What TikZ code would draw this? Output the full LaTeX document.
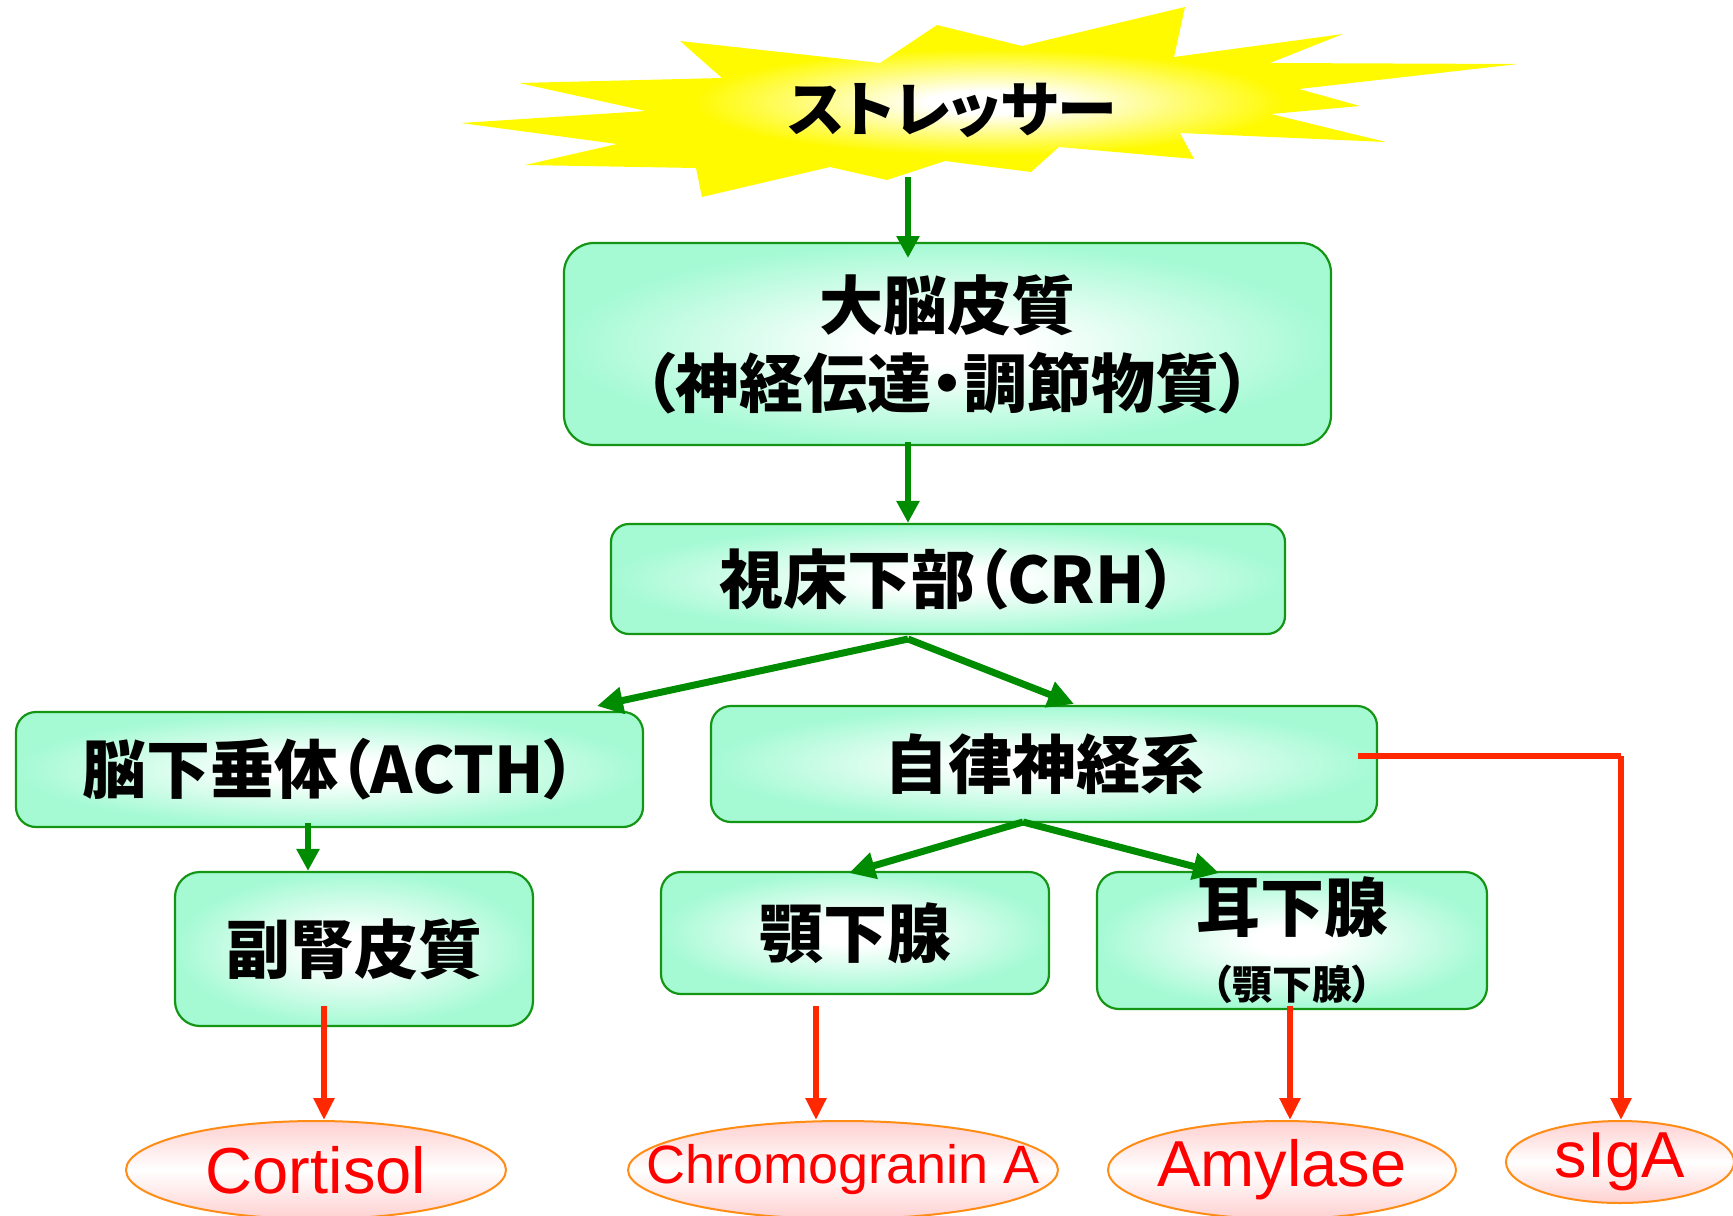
\documentclass[tikz,border=0pt]{standalone}
\usepackage{fontspec}
\setmainfont{Liberation Sans}
\newfontfamily\jp{Noto Sans CJK JP}[RawFeature={+palt}]
\usetikzlibrary{arrows.meta,shapes.geometric}
\definecolor{mint}{RGB}{165,250,212}
\definecolor{boxgreen}{RGB}{20,150,20}
\definecolor{arrgreen}{RGB}{0,140,0}
\definecolor{arrred}{RGB}{255,40,0}
\definecolor{pinkc}{RGB}{255,208,208}
\definecolor{ellorange}{RGB}{255,140,20}
\definecolor{txtred}{RGB}{255,0,0}
\definecolor{staryellow}{RGB}{255,250,0}
\pgfdeclareradialshading{mintglow}{\pgfpoint{0bp}{0bp}}{color(0bp)=(white); color(5bp)=(white); color(25bp)=(mint); color(50bp)=(mint)}
\pgfdeclareradialshading{starglow}{\pgfpoint{0bp}{0bp}}{color(0bp)=(white); color(3bp)=(white); color(14bp)=(staryellow); color(50bp)=(staryellow)}
\begin{document}
\begin{tikzpicture}[x=1pt,y=-1pt,
  jpbig/.style={font={\jp\bfseries\fontsize{64}{78}\selectfont}},
  gbox/.style={draw=boxgreen, line width=2.2pt, rounded corners=#1, shading=mintglow, align=center, inner sep=0pt, text=black},
  ell/.style={draw=ellorange, line width=2pt, ellipse, inner sep=0pt, top color=pinkc, bottom color=pinkc, middle color=white},
  redtxt/.style={text=txtred, inner sep=0pt},
  garrow/.style={draw=arrgreen, line width=5.5pt, -{Triangle[length=22pt,width=22pt]}},
  gdiag/.style={draw=arrgreen, line width=7pt, -{Triangle[length=26pt,width=26pt]}},
  rline/.style={draw=arrred, line width=5.5pt},
  rarrow/.style={draw=arrred, line width=5.5pt, -{Triangle[length=22pt,width=20pt]}}
]
\useasboundingbox (0,0) rectangle (1733,1216);
% star
\shade[shading=starglow] (1185,7) -- (1174,57) -- (1343,34) -- (1270,63) -- (1518,64) -- (1299,89) -- (1360,106) -- (1271,114) -- (1386,142) -- (1180,133) -- (1194,159) -- (1059,147) -- (1031,172) -- (945,161) -- (887,180) -- (830,167) -- (702,197) -- (696,168) -- (525,165) -- (617,144) -- (461,123) -- (646,111) -- (519,83) -- (722,78) -- (680,41) -- (880,63) -- (937,25) -- (1022,46) -- cycle;
\node[font={\jp\bfseries\fontsize{60}{64}\selectfont}] (star) at (952,110) {ストレッサー};
% boxes
\node[gbox=30pt, minimum width=767pt, minimum height=202pt, jpbig] (b1) at (947.5,344) {大脳皮質\\{\fontsize{64}{72}\selectfont （神経伝達・調節物質）}};
\node[gbox=18pt, minimum width=674pt, minimum height=110pt, jpbig] (b2) at (948,579) {視床下部（CRH）};
\node[gbox=20pt, minimum width=627pt, minimum height=115pt, jpbig] (b3) at (329.5,769.5) {脳下垂体（ACTH）};
\node[gbox=20pt, minimum width=666pt, minimum height=116pt, jpbig] (b4) at (1044,764) {自律神経系};
\node[gbox=25pt, minimum width=358pt, minimum height=154pt, jpbig] (b5) at (354,949) {副腎皮質};
\node[gbox=20pt, minimum width=388pt, minimum height=122pt, jpbig] (b6) at (855,933) {顎下腺};
\node[gbox=22pt, minimum width=390pt, minimum height=137pt, jpbig] (b7) at (1292,940.5) {耳下腺\\[-10pt]{\fontsize{40}{44}\selectfont （顎下腺）}};
% ellipses
\node[ell, minimum width=380pt, minimum height=98pt] (e1) at (316,1170) {};
\node[ell, minimum width=430pt, minimum height=98pt] (e2) at (843,1170) {};
\node[ell, minimum width=348pt, minimum height=98pt] (e3) at (1282,1170) {};
\node[ell, minimum width=228pt, minimum height=82pt] (e4) at (1620,1162) {};
\node[redtxt, font={\fontsize{65}{70}\selectfont}] (e1t) at (e1.center) {Cortisol};
\node[redtxt, font={\fontsize{54}{60}\selectfont}] (e2t) at (e2.center) {Chromogranin A};
\node[redtxt, font={\fontsize{65}{70}\selectfont}] (e3t) at (e3.center) {Amylase};
\node[redtxt, font={\fontsize{65}{70}\selectfont}] (e4t) at (e4.center) {sIgA};
% coordinates
\coordinate (s1) at (908,177);
\coordinate (t1) at (908,258);
\coordinate (a1) at (908,442);
\coordinate (ap2) at (908,639);
\coordinate (tl2) at (597,706);
\coordinate (tr2) at (1074,704);
\coordinate (a3) at (308,823);
\coordinate (ap4) at (1023,822);
\coordinate (tl4) at (849,873);
\coordinate (tr4) at (1219,873);
\coordinate (r1) at (324,1006);
\coordinate (r2) at (816,1006);
\coordinate (r3) at (1290,1006);
\coordinate (r4) at (1358,756);
\coordinate (r4c) at (1621,756);
% green arrows
\draw[garrow] (s1) -- (t1);
\draw[garrow] (a1) -- (b2.north -| a1);
\draw[gdiag] (ap2) -- (tl2);
\draw[gdiag] (ap2) -- (tr2);
\draw[garrow] (a3) -- (b5.north -| a3);
\draw[gdiag] (ap4) -- (tl4);
\draw[gdiag] (ap4) -- (tr4);
% red arrows
\draw[rarrow] (r1) -- (e1.north -| r1);
\draw[rarrow] (r2) -- (e2.north -| r2);
\draw[rarrow] (r3) -- (e3.north -| r3);
\draw[rline] (r4) -- (r4c);
\draw[rarrow] (r4c) -- (e4.north -| r4c);
\end{tikzpicture}
\end{document}
